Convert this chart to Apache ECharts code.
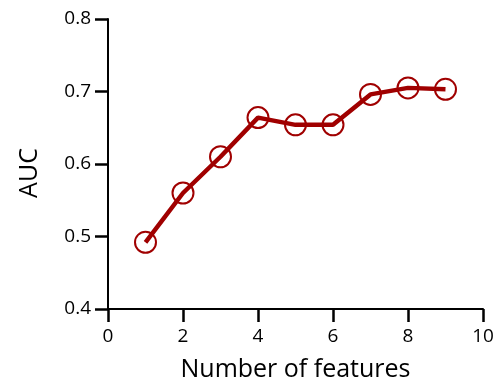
<!DOCTYPE html>
<html><head><meta charset="utf-8">
<script src="https://cdn.jsdelivr.net/npm/echarts@6/dist/echarts.min.js"></script>
<style>html,body{margin:0;padding:0;background:#fff}#c{width:500px;height:381px}</style>
</head><body><div id="c"></div>
<script>
const features = [1, 2, 3, 4, 5, 6, 7, 8, 9];
const auc = [0.492, 0.560, 0.610, 0.664, 0.654, 0.654, 0.696, 0.705, 0.703];
const xTicks = [0, 2, 4, 6, 8, 10];
const yTicks = [0.4, 0.5, 0.6, 0.7, 0.8];
const red = '#a00000';
const font = 'Open Sans';
const chart = echarts.init(document.getElementById('c'));
chart.setOption({
  animation: false,
  grid: {left: 108, right: 17, top: 19, bottom: 72, containLabel: false, outerBoundsMode: 'none'},
  xAxis: {
    type: 'value', min: xTicks[0], max: xTicks[xTicks.length-1], interval: 2,
    name: 'Number of features', nameLocation: 'middle', nameGap: 48,
    nameTextStyle: {fontFamily: font, fontSize: 25, color: '#000'},
    axisLine: {show: true, onZero: false, lineStyle: {color: '#000', width: 2}},
    axisTick: {show: true, inside: false, length: 13, lineStyle: {color: '#000', width: 2.5}},
    axisLabel: {fontFamily: font, fontSize: 19, color: '#000', margin: 18},
    splitLine: {show: false}
  },
  yAxis: {
    type: 'value', min: yTicks[0], max: yTicks[yTicks.length-1], interval: 0.1,
    name: 'AUC', nameLocation: 'middle', nameGap: 66,
    nameTextStyle: {fontFamily: font, fontSize: 25, color: '#000', padding: [0, 18, 0, 0]},
    axisLine: {show: true, onZero: false, lineStyle: {color: '#000', width: 2}},
    axisTick: {show: true, inside: false, length: 13, lineStyle: {color: '#000', width: 2.5}},
    axisLabel: {fontFamily: font, fontSize: 19, color: '#000', margin: 17,
      formatter: v => v.toFixed(1)},
    splitLine: {show: false}
  },
  series: [{
    type: 'line',
    data: features.map((f, i) => [f, auc[i]]),
    symbol: 'circle', symbolSize: 21,
    lineStyle: {color: red, width: 4.5},
    itemStyle: {color: 'rgba(0,0,0,0)', borderColor: red, borderWidth: 2}
  }]
});
</script></body></html>
